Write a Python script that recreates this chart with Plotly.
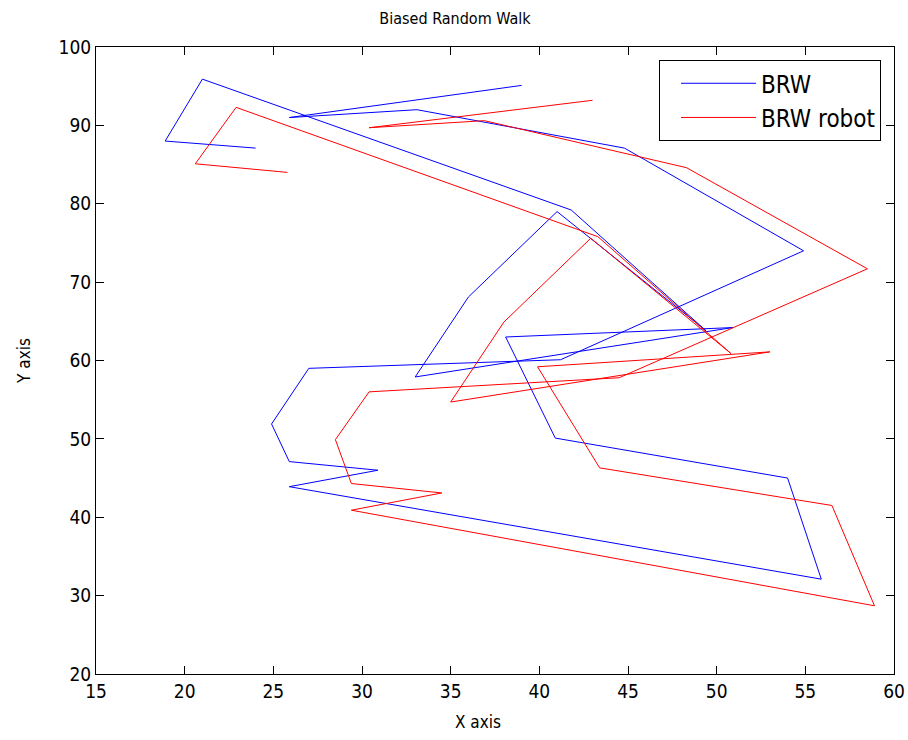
import plotly.graph_objects as go

# Biased random walk (blue) and robot following it (red)
brw_x = [39.0, 25.9, 33.1, 44.8, 54.9, 41.2, 27.0, 24.9, 25.9, 30.9, 25.9, 55.9, 54.0, 40.9, 38.1, 50.9, 33.0, 36.0, 41.0, 49.4, 41.8, 21.0, 18.9, 24.0]
brw_y = [95.1, 91.0, 92.0, 87.1, 74.0, 60.1, 59.0, 51.9, 47.1, 46.0, 43.9, 32.1, 45.0, 50.1, 63.0, 64.2, 57.9, 68.1, 79.0, 63.8, 79.2, 95.9, 88.0, 87.1]

robot_x = [43.0, 30.4, 36.9, 48.3, 58.5, 44.5, 30.4, 28.5, 29.4, 34.5, 29.4, 58.9, 56.5, 43.4, 39.9, 53.0, 35.0, 38.0, 42.9, 50.8, 43.3, 22.9, 20.6, 25.8]
robot_y = [93.2, 89.7, 90.6, 84.6, 71.7, 57.8, 56.0, 49.9, 44.3, 43.1, 40.9, 28.7, 41.5, 46.3, 59.2, 61.1, 54.7, 64.9, 75.6, 60.9, 75.8, 92.3, 85.1, 84.0]

x_ticks = [15, 20, 25, 30, 35, 40, 45, 50, 55, 60]
y_ticks = [20, 30, 40, 50, 60, 70, 80, 90, 100]

FONT = "DejaVu Sans Condensed, DejaVu Sans, Liberation Sans, sans-serif"
W, H = 908, 740

fig = go.Figure()
fig.add_trace(go.Scatter(x=brw_x, y=brw_y, mode="lines", name="BRW", legendgroup="a",
                         line=dict(color="#0000FF", width=1)))
fig.add_trace(go.Scatter(x=robot_x, y=robot_y, mode="lines", name="BRW robot", legendgroup="b",
                         line=dict(color="#FF0000", width=1)))

axis_common = dict(showgrid=False, zeroline=False, showline=True, linecolor="#000000",
                   linewidth=1, mirror="ticks", ticks="inside", ticklen=8,
                   tickcolor="#000000", automargin=False,
                   tickfont=dict(family=FONT, size=19, color="#000000"))

fig.update_layout(
    width=W, height=H,
    paper_bgcolor="#FFFFFF", plot_bgcolor="#FFFFFF",
    margin=dict(l=96, r=14, t=47, b=66),
    font=dict(family=FONT, size=17, color="#000000"),
    title=dict(text="Biased Random Walk", x=455 / W, xanchor="center",
               y=1 - 18 / H, yanchor="middle", yref="container",
               font=dict(family=FONT, size=16, color="#000000")),
    xaxis=dict(range=[15, 60], tickvals=x_ticks, ticktext=[str(v) for v in x_ticks],
               **axis_common),
    yaxis=dict(range=[20, 100], tickvals=y_ticks, ticktext=[str(v) for v in y_ticks],
               title=dict(text="Y axis", standoff=23, font=dict(family=FONT, size=17)),
               **axis_common),
    annotations=[dict(text="X axis", xref="paper", yref="paper",
                      x=(478 - 96) / 798, y=-(722 - 674) / 627,
                      xanchor="center", yanchor="middle", showarrow=False,
                      font=dict(family=FONT, size=17, color="#000000"))],
    legend=dict(x=0.9837, xanchor="right", y=0.979, yanchor="top",
                bgcolor="#FFFFFF", bordercolor="#000000", borderwidth=1,
                font=dict(family=FONT, size=24, color="#000000"),
                tracegroupgap=0, itemwidth=75, indentation=16),
    showlegend=True,
)

fig.write_html("out.html", config={"displayModeBar": False},
               post_script="document.body.style.margin='0px';document.body.style.overflow='hidden';")
